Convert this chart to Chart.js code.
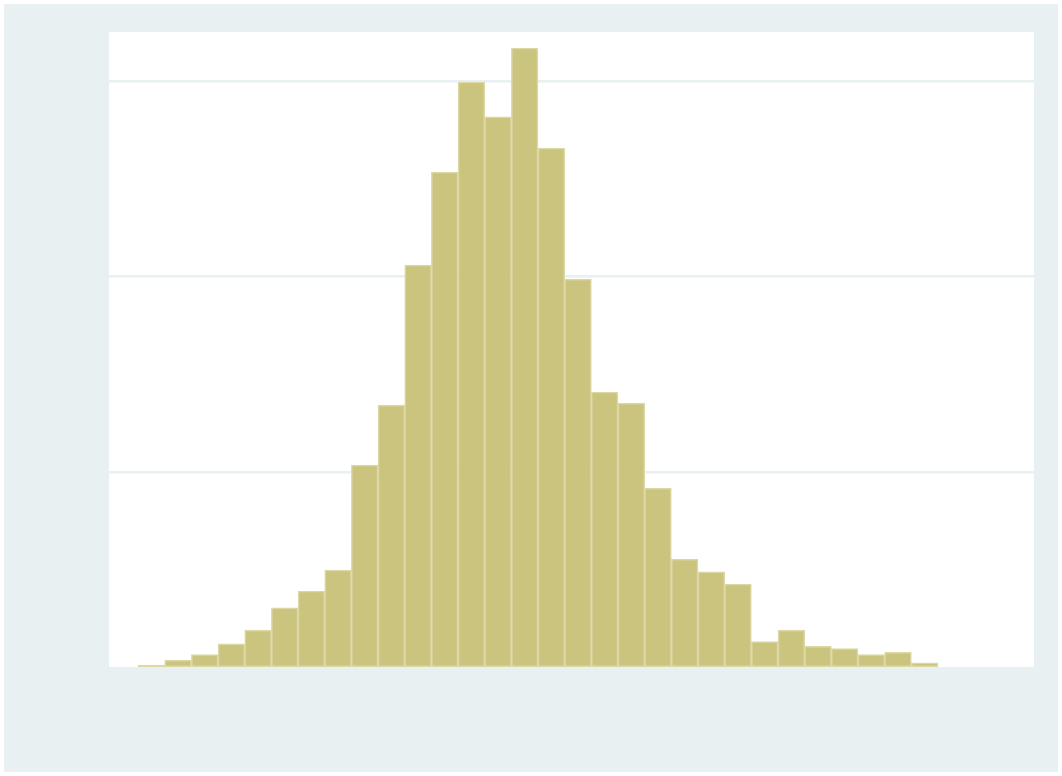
<!DOCTYPE html>
<html lang="en">
<head>
  <meta charset="UTF-8" />
  <title>Histogram</title>
  <script src="https://cdn.jsdelivr.net/npm/chart.js"></script>
  <style>
    body {
      background-color: #fff;
      margin: 0;
      padding: 0;
    }
    .container {
      width: 1062px;
      height: 776px;
    }
  </style>
</head>
<body>
  <div class="container">
    <canvas id="histChart" width="1062" height="776"></canvas>
  </div>

  <script>
    // bin centres (bin index) and bar heights
    const binCenters = [0, 1, 2, 3, 4, 5, 6, 7, 8, 9, 10, 11, 12, 13, 14,
                        15, 16, 17, 18, 19, 20, 21, 22, 23, 24, 25, 26, 27, 28, 29];
    const binHeights = [0.015, 0.041, 0.068, 0.123, 0.194, 0.307, 0.393, 0.50, 1.037, 1.344,
                        2.059, 2.534, 2.994, 2.816, 3.168, 2.657, 1.988, 1.410, 1.354, 0.920,
                        0.557, 0.491, 0.429, 0.135, 0.194, 0.111, 0.099, 0.068, 0.080, 0.026];
    const yGridTicks = [0, 1, 2, 3];

    const bgColor = '#e8f0f2';

    // outer frame + white plot region
    const backdrop = {
      id: 'backdrop',
      beforeDraw(chart) {
        const c = chart.ctx;
        const a = chart.chartArea;
        c.save();
        c.fillStyle = '#fff';
        c.fillRect(0, 0, chart.width, chart.height);
        c.fillStyle = bgColor;
        c.fillRect(4, 4, chart.width - 8, chart.height - 8);
        c.fillStyle = '#fff';
        c.fillRect(a.left, a.top, a.right - a.left, a.bottom - a.top);
        c.restore();
      }
    };

    let ctx = document.getElementById('histChart').getContext('2d');
    let histChart = new Chart(ctx, {
      type: 'bar',
      data: {
        datasets: [{
          data: binCenters.map((x, i) => ({ x: x, y: binHeights[i] })),
          backgroundColor: '#cbc47f',
          borderColor: '#dcd8a6',
          borderWidth: 1.5,
          borderSkipped: false,
          barPercentage: 1,
          categoryPercentage: 1
        }]
      },
      options: {
        responsive: false,
        animation: false,
        layout: {
          padding: { left: 109, right: 28, top: 32, bottom: 108 }
        },
        scales: {
          x: {
            type: 'linear',
            display: false,
            offset: false,
            min: -1.59,
            max: 33.1
          },
          y: {
            min: 0,
            max: 3.25,
            ticks: { display: false, stepSize: 1 },
            afterBuildTicks: s => { s.ticks = yGridTicks.map(v => ({ value: v })); },
            afterFit: s => { s.width = 0; },
            border: { display: false },
            grid: { color: bgColor, lineWidth: 2.5, drawTicks: false }
          }
        },
        plugins: {
          legend: { display: false },
          tooltip: { enabled: false }
        }
      },
      plugins: [backdrop]
    });
  </script>
</body>
</html>
